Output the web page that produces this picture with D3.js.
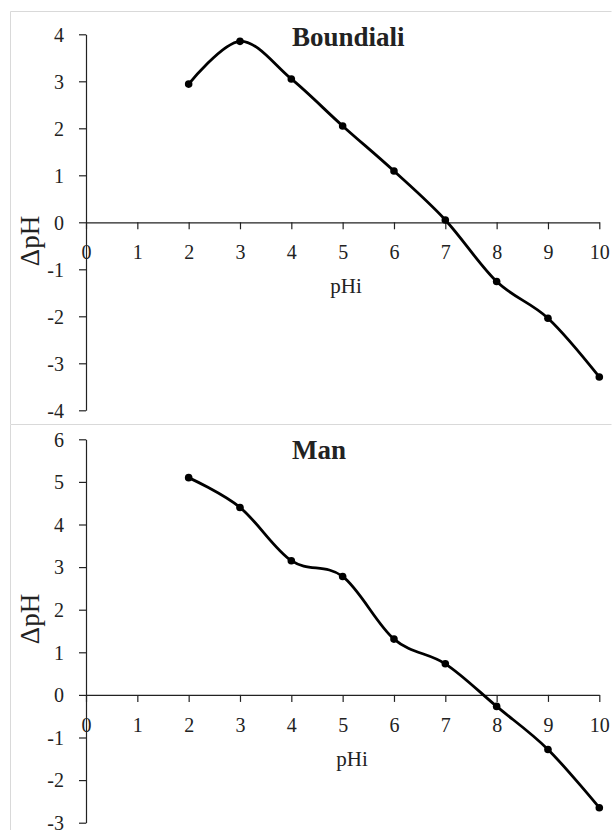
<!DOCTYPE html>
<html>
<head>
<meta charset="utf-8">
<script src="https://cdn.jsdelivr.net/npm/d3@7"></script>
<style>
  html, body { margin: 0; padding: 0; background: #fff; }
  svg { display: block; }
  text { font-family: "Liberation Serif", "Times New Roman", serif; fill: #222; }
</style>
</head>
<body>
<svg id="chart" width="612" height="830"></svg>
<script>
// Initial pH (pHi) values shared by both panels
const pHi = [2, 3, 4, 5, 6, 7, 8, 9, 10];
const xTicks = [0, 1, 2, 3, 4, 5, 6, 7, 8, 9, 10];

// ΔpH for the Boundiali soil
const boundialiDelta = [2.94, 3.85, 3.05, 2.05, 1.09, 0.05, -1.26, -2.04, -3.29];
const boundialiYTicks = [-4, -3, -2, -1, 0, 1, 2, 3, 4];

// ΔpH for the Man soil
const manDelta = [5.10, 4.40, 3.15, 2.78, 1.31, 0.73, -0.27, -1.28, -2.65];
const manYTicks = [-3, -2, -1, 0, 1, 2, 3, 4, 5, 6];

// integers with a plain hyphen for negatives
const intFmt = d => String(d);

const svg = d3.select("#chart");

const x = d3.scaleLinear().domain([0, 10]).range([86, 599.3]);

const panels = [
  { title: "Boundiali", values: boundialiDelta, yTicks: boundialiYTicks,
    frameTop: 11, frameBottom: 424, yRange: [410.3, 34.3],
    titleY: 46, xLabelX: 346, yLabelMid: 241 },
  { title: "Man", values: manDelta, yTicks: manYTicks,
    frameTop: 424, frameBottom: 830, yRange: [822.7, 439.3],
    titleY: 459, xLabelX: 352, yLabelMid: 619 }
];

panels.forEach(p => {
  const g = svg.append("g");

  // light panel frame
  g.append("path")
    .attr("d", `M611.5,${p.frameTop + 0.5} H10.5 V${p.frameBottom}`)
    .attr("fill", "none")
    .attr("stroke", "#d9d9d9")
    .attr("stroke-width", 1);

  const y = d3.scaleLinear()
    .domain(d3.extent(p.yTicks))
    .range(p.yRange);

  // vertical axis
  const yAxis = g.append("g")
    .attr("transform", `translate(${x(0)},0)`)
    .call(d3.axisLeft(y).tickValues(p.yTicks).tickSize(7).tickSizeOuter(0)
      .tickFormat(intFmt));
  yAxis.select(".domain").attr("stroke", "#222").attr("stroke-width", 1.2);
  yAxis.selectAll(".tick line").attr("stroke", "#222").attr("stroke-width", 1.2);
  yAxis.selectAll(".tick text")
    .attr("x", -22)
    .attr("dy", "0.34em")
    .style("font-size", "20px")
    .style("font-family", "Liberation Serif, serif")
    .attr("fill", "#222");

  // horizontal axis through ΔpH = 0
  const xAxis = g.append("g")
    .attr("transform", `translate(0,${y(0)})`)
    .call(d3.axisBottom(x).tickValues(xTicks).tickSize(7).tickSizeOuter(0)
      .tickFormat(intFmt));
  xAxis.select(".domain").attr("stroke", "#222").attr("stroke-width", 1.2);
  xAxis.selectAll(".tick line").attr("stroke", "#222").attr("stroke-width", 1.2);
  xAxis.selectAll(".tick text")
    .attr("y", 37)
    .attr("dy", 0)
    .style("font-size", "20px")
    .style("font-family", "Liberation Serif, serif")
    .attr("fill", "#222");

  // axis titles
  g.append("text")
    .attr("x", p.xLabelX)
    .attr("y", y(0) + 71)
    .attr("text-anchor", "middle")
    .style("font-size", "21px")
    .text("pHi");

  g.append("text")
    .attr("transform", `translate(39,${p.yLabelMid}) rotate(-90)`)
    .attr("text-anchor", "middle")
    .style("font-size", "27px")
    .text("ΔpH");

  // panel title
  g.append("text")
    .attr("x", 292)
    .attr("y", p.titleY)
    .style("font-size", "27px")
    .style("font-weight", "bold")
    .attr("fill", "#111")
    .text(p.title);

  const pts = pHi.map((v, i) => [v, p.values[i]]);

  // smoothed curve
  g.append("path")
    .datum(pts)
    .attr("fill", "none")
    .attr("stroke", "#000")
    .attr("stroke-width", 2.8)
    .attr("d", d3.line()
      .x(d => x(d[0]))
      .y(d => y(d[1]))
      .curve(d3.curveCardinal.tension(0)));

  // markers
  g.selectAll("circle.pt")
    .data(pts)
    .join("circle")
    .attr("class", "pt")
    .attr("cx", d => x(d[0]))
    .attr("cy", d => y(d[1]))
    .attr("r", 3.8)
    .attr("fill", "#000");
});
</script>
</body>
</html>
